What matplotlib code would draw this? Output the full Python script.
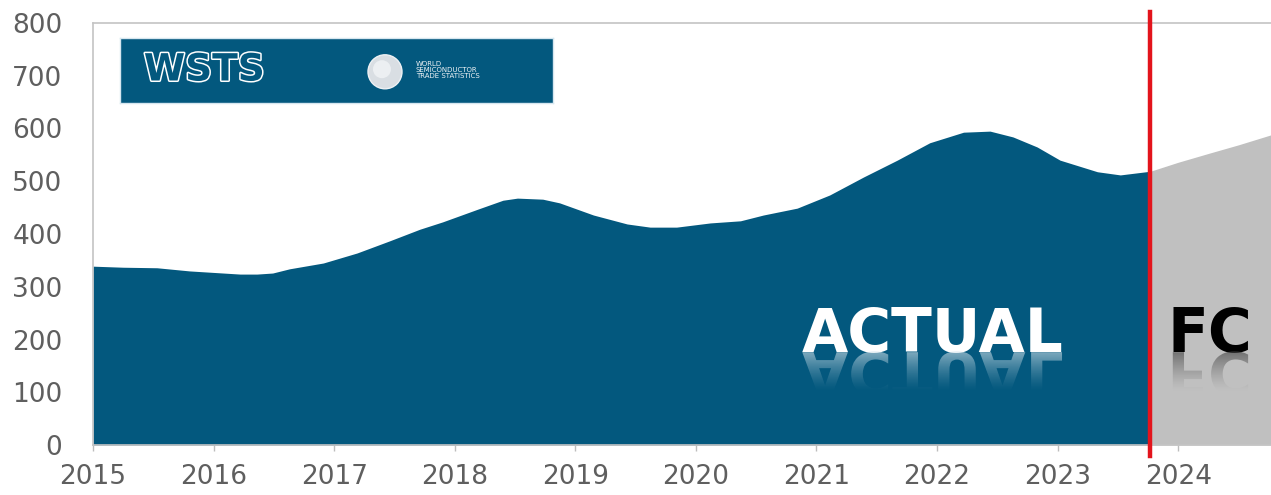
import numpy as np
import matplotlib
matplotlib.use("Agg")
import matplotlib.pyplot as plt
from matplotlib.patches import PathPatch, Ellipse
from matplotlib.textpath import TextPath
from matplotlib.font_manager import FontProperties
from matplotlib.transforms import Affine2D, ScaledTranslation
from matplotlib import patheffects as pe
from matplotlib.colors import to_rgb

# semiconductor market, bn USD
actual_year = [2015.00, 2015.25, 2015.53, 2015.80, 2016.08, 2016.22, 2016.36, 2016.49,
               2016.63, 2016.91, 2017.19, 2017.46, 2017.71, 2017.90, 2018.19, 2018.40,
               2018.52, 2018.73, 2018.87, 2019.15, 2019.43, 2019.62, 2019.84, 2020.12,
               2020.37, 2020.56, 2020.84, 2021.11, 2021.39, 2021.67, 2021.94, 2022.22,
               2022.44, 2022.63, 2022.83, 2023.02, 2023.33, 2023.52, 2023.77]
actual_val = [339, 337, 336, 330, 326, 324, 324, 326,
              334, 345, 364, 387, 409, 423, 447, 464,
              468, 466, 459, 436, 419, 413, 413, 421,
              425, 436, 449, 474, 508, 540, 573, 593,
              595, 584, 565, 540, 518, 512, 519]

fc_year = [2023.77, 2024.00, 2024.27, 2024.50, 2024.77]
fc_val = [519, 536, 554, 569, 588]

split_year = 2023.77
year_ticks = list(range(2015, 2025))
value_ticks = list(range(0, 801, 100))

BLUE = "#03587e"
GREY = "#c0c0c0"
RED = "#e3141c"
LABEL = "#5f5f5f"

fig = plt.figure(figsize=(12.71, 4.95), dpi=100)
ax = fig.add_axes([93 / 1271, 50 / 495, 1 - 93 / 1271, 422 / 495])

ax.fill_between(actual_year, actual_val, color=BLUE, lw=0, zorder=2)
ax.fill_between(fc_year, fc_val, color=GREY, lw=0, zorder=2)
ax.axvline(split_year, ymin=-0.025, ymax=1.027, color=RED, lw=3.2,
           clip_on=False, zorder=5)

ax.set_xlim(2015, 2024.77)
ax.set_ylim(0, 800)
ax.set_xticks(year_ticks)
ax.set_yticks(value_ticks)
ax.tick_params(axis="x", length=4, width=1, color="#bdbdbd", pad=10,
               labelsize=19, labelcolor=LABEL)
ax.tick_params(axis="y", length=0, pad=22, labelsize=19, labelcolor=LABEL)
for lab in ax.get_xticklabels() + ax.get_yticklabels():
    lab.set_family("DejaVu Sans")
for side in ["top", "left", "bottom"]:
    ax.spines[side].set_color("#c4c4c4")
    ax.spines[side].set_linewidth(1.2)
ax.spines["right"].set_visible(False)

bold = FontProperties(family="DejaVu Sans", weight="bold")


def mirrored(ax, s, x0, y0, size, color, a0):
    # faded upside-down copy of a label, hanging below its baseline
    tp = TextPath((0, 0), s, size=size, prop=bold)
    tr = (Affine2D().scale(1 / 72, -1 / 72) + fig.dpi_scale_trans
          + ScaledTranslation(x0, y0, ax.transData))
    clip = PathPatch(tp, transform=tr, fc="none", ec="none")
    grad = np.zeros((64, 1, 4))
    grad[..., :3] = to_rgb(color)
    grad[:, 0, 3] = a0 * np.linspace(1, 0, 64) ** 1.4
    im = ax.imshow(grad, extent=(x0 - 0.1, x0 + 3.0, y0 - 76, y0),
                   aspect="auto", origin="upper", interpolation="bilinear",
                   zorder=4)
    im.set_clip_path(clip)


ax.text(2020.88, 176, "ACTUAL", color="white", fontproperties=bold,
        fontsize=43, ha="left", va="baseline", zorder=4)
mirrored(ax, "ACTUAL", 2020.88, 176, 43, "#d5e4ec", 0.6)

ax.text(2023.91, 176, "FC", color="black", fontproperties=bold,
        fontsize=43, ha="left", va="baseline", zorder=4)
mirrored(ax, "FC", 2023.91, 176, 43, "#444444", 0.65)

ax.set_xlim(2015, 2024.77)
ax.set_ylim(0, 800)

# logo banner
lg = fig.add_axes([120 / 1271, 1 - 103 / 495, 433 / 1271, 65 / 495])
lg.set_facecolor(BLUE)
lg.set_xlim(0, 1)
lg.set_ylim(0, 1)
lg.set_xticks([])
lg.set_yticks([])
for sp in lg.spines.values():
    sp.set_color("#d6e6ef")
    sp.set_linewidth(1)
lg.text(0.055, 0.5, "WSTS", fontproperties=bold, fontsize=27, color=BLUE,
        ha="left", va="center",
        path_effects=[pe.Stroke(linewidth=2.2, foreground="white"), pe.Normal()])
lg.add_patch(Ellipse((0.612, 0.48), 34 / 433, 34 / 65, fc="#d9dee3",
                     ec="#eef1f4", lw=1))
lg.add_patch(Ellipse((0.605, 0.52), 18 / 433, 18 / 65, fc="#eceff2",
                     ec="none"))
lg.text(0.683, 0.5, "WORLD\nSEMICONDUCTOR\nTRADE STATISTICS", color="#eef3f6",
        fontsize=5, ha="left", va="center", linespacing=1.0)

fig.savefig("out.png", dpi=100)
